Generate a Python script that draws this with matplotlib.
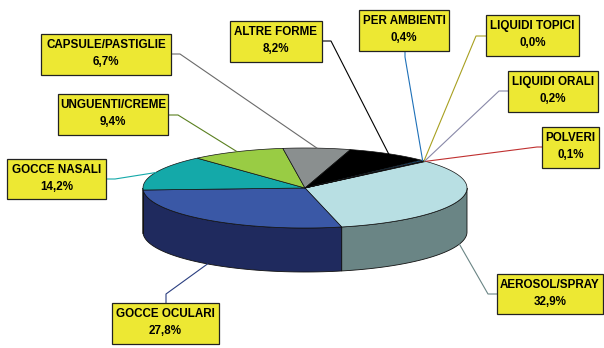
import numpy as np
import matplotlib.pyplot as plt
from matplotlib.patches import Polygon, Rectangle

# slices, clockwise starting from the small "polveri" wedge
labels = ['POLVERI', 'AEROSOL/SPRAY', 'GOCCE OCULARI', 'GOCCE NASALI',
          'UNGUENTI/CREME', 'CAPSULE/PASTIGLIE', 'ALTRE FORME',
          'PER AMBIENTI', 'LIQUIDI TOPICI', 'LIQUIDI ORALI']
values = [0.1, 32.9, 27.8, 14.2, 9.4, 6.7, 8.2, 0.4, 0.0, 0.2]

top_colors = ['#C83C3C', '#B8DFE3', '#3A58A6', '#14A9A9', '#99CC44',
              '#8A8F8F', '#000000', '#1E70B8', '#B0A820', '#8080A8']
side_colors = ['#802020', '#6A8585', '#1F2A5E', '#0B6A6A', '#5E8228',
               '#5A5E5E', '#000000', '#104070', '#706A10', '#505070']
line_colors = ['#C03030', '#6A8585', '#2A3E80', '#14A9A9', '#5A8020',
               '#6A6A6A', '#000000', '#1E70B8', '#A8A020', '#8888A8']

# label boxes in pixel coords: (x0, y0, x1, y1), attach point, elbow point
boxes = [
    ((542, 127, 599, 168), (542, 147), (537, 147)),
    ((497, 274, 603, 314), (497, 294), (488, 294)),
    ((112, 303, 219, 344), (166, 303), (166, 294)),
    ((7, 159, 106, 199), (106, 179), (115, 179)),
    ((58, 94, 168, 135), (168, 115), (178, 115)),
    ((41, 34, 171, 75), (171, 54), (180, 54)),
    ((230, 21, 322, 62), (322, 41), (331, 41)),
    ((359, 10, 449, 51), (405, 51), (405, 57)),
    ((486, 15, 579, 56), (486, 36), (476, 36)),
    ((508, 71, 598, 112), (508, 91), (499, 91)),
]

cx, cy, a, b, depth = 305, 188, 162, 40, 44
start = 42.0

fig = plt.figure(figsize=(6.04, 3.48), dpi=100)
ax = fig.add_axes([0, 0, 1, 1])
ax.set_xlim(0, 604)
ax.set_ylim(348, 0)
ax.axis('off')


def ell(t, dy=0):
    t = np.radians(t)
    return cx + a * np.cos(t), cy - b * np.sin(t) + dy


fr = np.array(values) / sum(values) * 360
ends = start - np.cumsum(fr)
starts = ends + fr

# side walls (front half only: angles between -180 and 0)
for i in range(len(values)):
    t1 = min(starts[i], 0)
    t2 = max(ends[i], -180)
    if t1 <= t2:
        continue
    t = np.linspace(t1, t2, 60)
    x, y = ell(t)
    xb, yb = ell(t[::-1], depth)
    pts = np.column_stack([np.r_[x, xb], np.r_[y, yb]])
    ax.add_patch(Polygon(pts, closed=True, fc=side_colors[i], ec='#111111', lw=0.6, zorder=1))

# top faces
for i in range(len(values)):
    if fr[i] <= 0:
        continue
    t = np.linspace(starts[i], ends[i], max(int(fr[i]) + 2, 3))
    x, y = ell(t)
    pts = np.column_stack([np.r_[cx, x], np.r_[cy, y]])
    ax.add_patch(Polygon(pts, closed=True, fc=top_colors[i], ec='#111111', lw=0.5, zorder=2))

# leader lines and label boxes
for i, (box, att, elb) in enumerate(boxes):
    mid = (starts[i] + ends[i]) / 2
    m = ((mid + 180) % 360) - 180
    if m < 0:
        px, py = ell(mid, depth if -170 < m < -10 else depth * 0.5)
    else:
        px, py = ell(mid)
    ax.plot([att[0], elb[0], px], [att[1], elb[1], py], color=line_colors[i], lw=0.8, zorder=3)

    x0, y0, x1, y1 = box
    ax.add_patch(Rectangle((x0 + 1.2, y0 + 1.2), x1 - x0, y1 - y0, fc='#555555', ec='none', zorder=4))
    ax.add_patch(Rectangle((x0, y0), x1 - x0, y1 - y0, fc='#EDE833', ec='#222222', lw=0.9, zorder=5))
    pct = f"{values[i]:.1f}".replace('.', ',') + '%'
    xm = (x0 + x1) / 2
    ax.text(xm, y0 + 11, labels[i], ha='center', va='center', fontsize=8.4,
            fontweight='bold', family='Liberation Sans', zorder=6)
    ax.text(xm, y0 + 28, pct, ha='center', va='center', fontsize=8.4,
            fontweight='bold', family='Liberation Sans', zorder=6)

fig.savefig('out.png', dpi=100, facecolor='white')
